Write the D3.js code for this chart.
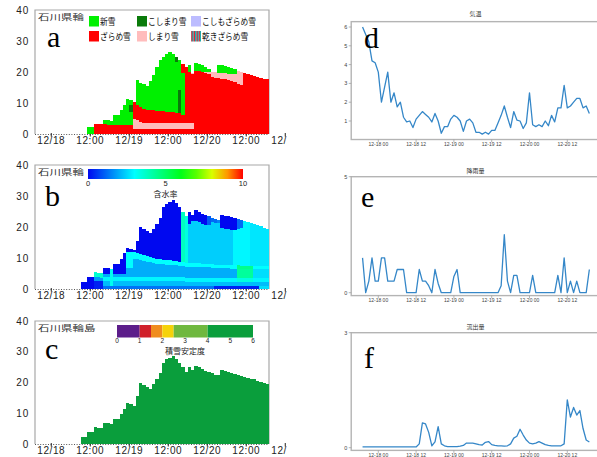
<!doctype html>
<html lang="ja">
<head>
<meta charset="utf-8">
<script src="https://cdnjs.cloudflare.com/ajax/libs/d3/7.8.5/d3.min.js"></script>
<style>
  body { margin: 0; background: #fff; }
  svg { display: block; }
  text { font-family: "Liberation Sans", Arial, sans-serif; }
  .jp { font-family: "Noto Sans CJK JP", sans-serif; }
  .letter { font-family: "Liberation Serif", "DejaVu Serif", serif; font-size: 30px; fill: #000; }
</style>
</head>
<body>
<svg id="fig" width="597" height="457"></svg>
<script>
// ---------- left column: hourly snowpack columns (hours since 12/18 00:00) ----------
var colHours = [9,10,11,12,13,14,15,16,17,18,19,20,21,22,23,24,25,26,27,28,29,30,31,32,33,34,35,36,37,
  38,39,40,41,42,43,44,45,46,47,48,49,50,51,52,53,54,55,56,57,58,59,60,61,62,63,64,65,66];

// total snow depth (cm), panels b and c
var snowDepth = [2.2,2.2,3.9,3.9,5.5,5.3,5.1,6.9,6.7,6.4,8.1,8.0,9.8,11.5,13.2,13.0,12.5,15.5,20.0,19.3,18.6,
  18.0,19.5,21.0,23.0,26.5,27.5,28.0,28.6,27.6,26.5,25.0,23.5,25.0,24.0,25.5,25.0,24.3,23.8,23.4,23.0,22.6,
  22.3,24.0,23.7,23.4,23.1,22.8,22.5,22.2,21.9,21.6,21.3,21.0,20.6,20.2,19.8,19.4];

// panel a: layer thickness by snow type (cm), bottom to top
var aR1 = [0,0,0,0,3.3,3.2,3.1,3.1,3.0,3.0,3.0,3.0,3.0,3.0,3.0,3.0,1.5,1.5,1.5,1.5,1.5,1.5,1.5,1.5,1.5,1.5,
  1.5,1.5,1.5,1.5,1.5,1.5,1.5,1.5,1.5,20.3,20.2,20.0,19.6,19.3,18.5,18.2,18.0,17.8,17.6,17.4,17.2,16.8,16.0,
  15.8,19.6,19.4,19.1,18.8,18.5,18.2,17.9,17.6];
var aP1 = [0,0,0,0,0,0,0,0,0,0,0,0,0,0,0,0,3.3,3.0,2.3,2.0,2.0,2.0,2.0,2.0,2.0,2.0,2.0,2.0,2.0,2.0,2.0,2.0,
  2.0,2.0,2.0,0,0,0,0,0,0,0,0,0,0,0,0,0,0,0,0,0,0,0,0,0,0,0];
var aR2 = [0,0,0,0,0,0,0,0,0,0,0,0,0,0,0,0,5.6,5.0,4.8,4.5,4.3,4.2,4.1,4.0,3.9,3.8,3.7,3.6,3.5,3.4,3.2,2.7,
  18.2,16.5,16.0,0,0,0,0,0,0,0,0,0,0,0,0,0,0,0,0,0,0,0,0,0,0,0];
var aG1 = [0,0,2.1,2.1,0,0,0,1.5,1.5,1.3,3.2,3.0,4.8,6.4,8.3,4.1,0,7.8,7.9,8.0,7.7,9.3,11.4,14.0,16.6,17.7,
  18.6,19.2,18.8,16.3,0,13.5,0,0,0,0,0,0,0,0,0,0,0,0,0,0,0,0,0,0,0,0,0,0,0,0,0,0];
var aDg = [0,0,0,0,0,0,0,0,0,0,0,0,0,0,0,2.3,0,0,0,0,0,0,0,0,0,0,0,0,0,1.6,7.5,0,0,0,0,0,0,0,0,0,0,0,0,0,
  0,0,0,0,0,0,0,0,0,0,0,0,0,0];
var aG2 = [0,0,0,0,0,0,0,0,0,0,0,0,0,0,0,1.6,0,0,0,0,0,0,0,0,0,0,0,0,0,0,9.6,0,0,0,0,0,0,0,0,0,0,0,0,0,
  0,0,0,0,0,0,0,0,0,0,0,0,0,0];
var aR3 = [0,0,0,0,0,0,0,0,0,0,0,0,0,0,0,0,0,0,0,0,0,0,0,0,0,0,0,0,0,0,0,2.8,0,0,0,0,0,0,0,0,0,0,0,0,0,
  0,0,0,0,0,0,0,0,0,0,0,0,0];
var aP3 = [0,0,0,0,0,0,0,0,0,0,0,0,0,0,0,0,0,0,0,0,0,0,0,0,0,0,0,0,0,0,0,0,0,0,0.3,0,0,0,0.4,0.6,1.6,1.8,
  1.7,1.9,2.0,2.1,2.2,2.4,4.2,4.2,0,0,0,0,0,0,0,0];
var aG3 = [0,0,0,0,0,0,0,0,0,0,0,0,0,0,0,0,0,0,0,0,0,0,0,0,0,0,0,0,0,0,0,0,0,2.3,0,2.6,2.5,2.2,1.6,1.2,0,0,
  2.7,2.4,2.3,2.1,1.9,1.8,0,0,0,0,0,0,0,0,0,0];

var snowTypes = ["新雪", "こしまり雪", "こしもざらめ雪", "ざらめ雪", "しまり雪", "乾きざらめ雪"];
var snowTypeColors = ["#00f000", "#0a7a0a", "#bcbcff", "#ff0000", "#ffbcbc", "url(#stripes)"];

// panel b: layer thickness (cm) and water content (%) per column, bottom to top
var bL1 = [2.2,2.2,3.9,3.9,2.5,2.5,2.5,1.0,1.0,1.0,1.0,1.0,1.0,1.0,1.0,1.0,1.0,1.0,1.0,1.0,1.0,1.0,1.0,1.0,
  1.0,1.0,1.0,1.0,1.0,1.0,1.0,1.0,1.0,1.0,1.0,1.0,1.0,1.0,1.0,1.0,1.0,0.9,0.9,0.9,0.9,0.9,0.9,0.9,0.9,0.9,
  0.9,0.9,0.9,0.9,0.9,0.9,0.9,0.9];
var wL1 = [0,0,0,0,0.3,0.3,0.3,1.3,1.3,1.3,1.3,1.3,1.3,1.3,1.3,1.3,1.3,1.3,1.3,1.3,1.3,1.3,1.3,1.3,1.3,1.3,
  1.3,1.3,1.3,1.3,1.3,1.3,1.3,1.3,1.3,1.3,1.3,1.3,1.3,1.3,1.3,0.3,0.3,0.3,0.3,0.3,0.3,0.3,0.3,0.3,0.3,0.3,
  0.3,0.3,0.3,2.6,2.6,2.6];
var bL2 = [0,0,0,0,1.4,1.3,1.2,1.5,1.5,1.5,1.5,1.5,1.5,1.5,1.5,1.5,1.5,1.5,1.5,1.5,1.5,1.5,1.5,1.5,1.5,1.5,
  1.5,1.5,1.5,1.5,1.5,1.5,1.4,1.4,1.4,1.4,1.4,1.4,1.4,1.4,1.4,1.4,1.4,1.4,1.4,1.4,1.4,1.4,1.4,1.4,1.4,1.4,
  1.4,1.4,1.4,1.4,1.4,1.4];
var wL2 = [0,0,0,0,1.8,1.8,1.8,2.2,2.2,3.2,2.2,2.2,2.2,2.2,2.2,2.2,2.2,2.2,2.2,2.2,2.2,2.2,2.2,2.2,2.2,2.2,
  2.2,2.2,2.2,2.2,2.2,2.2,2.2,2.2,2.2,2.2,2.2,2.2,2.2,2.2,2.2,2.2,2.2,2.2,2.2,2.2,2.2,2.2,2.2,2.2,2.2,2.2,
  2.2,2.2,2.2,2.2,2.2,2.2];
var bL3 = [0,0,0,0,0,0,0,1.3,1.3,1.3,1.3,1.3,1.3,1.3,1.3,1.3,1.3,1.3,1.3,1.3,1.3,1.3,1.3,1.3,1.3,1.3,1.3,
  1.3,1.3,1.3,1.3,1.3,1.2,1.2,1.2,1.2,1.2,1.2,1.2,1.2,1.2,1.2,1.2,1.2,1.2,1.2,1.2,1.2,1.2,1.2,1.2,1.2,1.2,
  1.2,1.2,1.2,1.2,1.2];
var wL3 = [0,0,0,0,0,0,0,2.9,2.9,3.2,2.9,2.9,2.9,2.9,2.9,2.9,2.9,2.9,2.9,2.9,2.9,2.9,2.9,2.9,2.9,2.9,2.9,
  2.9,2.9,2.9,2.9,2.9,2.9,2.9,2.9,2.9,2.9,2.9,2.9,2.9,2.9,2.9,2.9,2.9,2.9,2.9,2.9,2.9,3.4,3.4,3.4,3.4,3.4,
  2.9,2.9,2.9,2.9,2.9];
var bL4 = [0,0,0,0,0,0,0,0.9,0.9,0.9,1.0,1.0,1.0,1.0,3.0,3.0,6.0,6.0,5.6,5.3,5.0,4.8,4.6,4.4,4.3,4.2,4.1,
  4.0,3.9,3.8,3.7,3.7,3.6,3.6,3.5,3.5,3.5,3.4,3.4,3.4,3.3,3.3,3.3,3.2,3.2,3.2,3.1,3.1,3.1,3.0,3.0,3.0,2.9,
  2.9,2.9,2.8,2.8,2.8];
var wL4 = [0,0,0,0,0,0,0,2.0,2.0,3.2,2.0,2.0,2.0,2.0,2.0,2.0,2.0,2.0,2.0,2.0,2.0,2.0,2.0,2.0,2.0,2.0,2.0,
  2.0,2.0,2.0,2.0,2.0,2.0,2.0,2.0,2.0,2.0,2.0,2.0,2.0,2.0,2.0,2.0,2.0,2.0,2.0,2.0,2.0,4.3,4.3,4.3,4.3,4.3,
  2.6,2.6,2.6,2.6,2.6];
var bL5 = [0,0,0,0,0,0,0,0,0,0,0,0,0,0,5.0,5.0,2.0,1.9,1.8,1.8,1.7,1.7,1.6,1.6,1.5,1.5,1.4,1.4,1.3,1.3,
  1.2,1.2,1.2,1.2,1.2,1.2,1.2,1.1,1.1,1.1,1.1,1.1,1.1,1.1,1.1,1.0,1.0,1.0,1.0,1.0,1.0,1.0,1.0,1.0,1.0,1.0,
  1.0,1.0];
var wL5 = [0,0,0,0,0,0,0,0,0,0,0,0,0,0,3.0,3.0,3.0,3.0,3.0,3.0,3.0,3.0,3.0,3.0,3.0,3.0,3.0,3.0,3.0,3.0,
  3.0,3.0,3.0,3.0,3.0,3.0,3.0,3.0,3.0,3.0,3.0,3.0,3.0,3.0,3.0,3.0,3.0,3.0,4.5,4.5,4.5,4.5,4.5,3.0,3.0,3.0,
  3.0,3.0];
// whatever is left up to snowDepth (minus the cap) is the top layer
var wTop = [0,0,0,0,3.6,3.6,3.6,0,0,3.2,0,0,0,0,0,0,0,0,0,0,0,0,0,0,0,0,0,0,0,0,0,3.8,3.4,2.4,2.4,2.4,
  2.4,2.4,2.4,2.4,2.4,2.4,2.4,2.4,2.4,2.4,2.4,2.9,2.9,2.9,2.9,2.9,2.7,2.7,2.7,2.7,2.7,2.7];
var bCap = [0,0,0,0,0,0,0,0,0,0,0,0,0,0,0,0,0,0,0,0,0,0,0,0,0,0,0,0,0,0,0,0,0,4.0,2.0,3.5,3.4,3.3,3.2,2.8,
  1.5,1.2,1.0,4.4,4.3,4.2,4.0,3.8,3.0,2.5,0,0,0,0,0,0,0,0];
var wCap = [0,0,0,0,0,0,0,0,0,0,0,0,0,0,0,0,0,0,0,0,0,0,0,0,0,0,0,0,0,0,0,0,0,0,0,0,0,0,0,1.0,1.2,1.2,
  1.5,0,0,0,0,0,1.2,1.2,0,0,0,0,0,0,0,0];

// panel c: stability classes of the colour bar
var stabBreaks = [0, 1, 1.5, 2, 2.5, 4, 6];
var stabColors = ["#5c1d8a", "#d0202a", "#f08c1e", "#f5d20a", "#6fb83f", "#0a9e3c"];
var stabTicks = [0, 1, 2, 3, 4, 5, 6];

var leftTickHours = [0, 12, 24, 36, 48, 60, 72];
var leftTickLabels = ["12/18", "12:00", "12/19", "12:00", "12/20", "12:00", "12/21"];
var depthTicks = [0, 10, 20, 30, 40];

// ---------- right column: hourly weather, 12/17 19:00 .. 12/20 19:00 ----------
var lineHours = [-5,-4,-3,-2,-1,0,1,2,3,4,5,6,7,8,9,10,11,12,13,14,15,16,17,18,19,20,21,22,23,24,25,26,
  27,28,29,30,31,32,33,34,35,36,37,38,39,40,41,42,43,44,45,46,47,48,49,50,51,52,53,54,55,56,57,58,59,60,
  61,62,63,64,65,66,67];
var airTemp = [6.0,5.6,5.2,4.2,4.1,3.6,2.0,2.8,3.6,2.0,2.5,1.75,2.0,1.2,0.95,1.0,0.65,1.1,1.3,1.5,1.35,1.2,
  0.95,1.4,1.0,0.35,0.7,0.7,1.1,1.3,1.2,1.0,0.45,1.0,1.1,0.9,0.4,0.4,0.3,0.4,0.3,0.5,0.5,0.9,1.3,1.8,1.2,
  0.65,1.5,1.05,1.0,0.6,0.9,2.5,0.8,0.7,0.8,0.7,1.0,0.75,1.3,0.95,1.7,1.7,2.9,1.7,1.8,2.0,2.2,2.2,1.7,1.8,1.4];
var rainfall = [1.5,0,0.5,1.5,0.5,0.5,1.5,1.5,0.5,0.5,0.5,1.0,1.0,1.0,0,0,0,0,1.0,0.5,0.5,0.3,0,1.0,0.4,0,
  0,0,0,0.7,1.0,0,0,0,0,0,0,0,0,0,0,0,0,0,0.3,2.5,0.5,0,0.75,0.75,0,0,0,0,0.75,0,0,0,0,0,0,0,0.75,0,1.5,0,
  0.5,0,0.5,0,0,0,1.0];
var runoff = [0.02,0.02,0.02,0.02,0.02,0.02,0.02,0.02,0.02,0.02,0.02,0.02,0.02,0.02,0.02,0.02,0.02,0.02,
  0.1,0.65,0.62,0.4,0.05,0.15,0.55,0.1,0.05,0.03,0.03,0.03,0.03,0.04,0.06,0.12,0.12,0.12,0.1,0.08,0.07,0.14,
  0.16,0.08,0.06,0.05,0.05,0.04,0.05,0.1,0.25,0.3,0.48,0.33,0.2,0.12,0.1,0.12,0.16,0.12,0.08,0.06,0.05,0.05,
  0.05,0.05,0.1,1.25,0.8,1.05,0.85,0.97,0.5,0.2,0.15];

var rightTickHours = [0, 12, 24, 36, 48, 60];
var rightTickLabels = ["12-18 00", "12-18 12", "12-19 00", "12-19 12", "12-20 00", "12-20 12"];

// ---------------------------------------------------------------------------------
var svg = d3.select("#fig");
var defs = svg.append("defs");

var stripes = defs.append("pattern").attr("id", "stripes")
  .attr("patternUnits", "userSpaceOnUse").attr("width", 2.6).attr("height", 4);
stripes.append("rect").attr("width", 1.3).attr("height", 4).attr("fill", "#00c0c0");
stripes.append("rect").attr("x", 1.3).attr("width", 1.3).attr("height", 4).attr("fill", "#e02030");

defs.append("clipPath").attr("id", "leftClip")
  .append("rect").attr("x", 0).attr("y", 0).attr("width", 287).attr("height", 457);

var xL = d3.scaleLinear().domain([-5, 67]).range([35, 269]);
var waterColor = d3.scaleLinear().domain([0, 3, 6.3, 8.3, 10])
  .range(["#0008f0", "#00ffff", "#00ff00", "#ffff00", "#ff0000"]);

var left = svg.append("g").attr("clip-path", "url(#leftClip)");

function leftFrame(top, bottom) {
  var y = d3.scaleLinear().domain([0, 40]).range([bottom, top]);
  var g = left.append("g");
  // dotted zero line
  g.append("line").attr("x1", 35).attr("x2", 269).attr("y1", bottom + 0.5).attr("y2", bottom + 0.5)
    .attr("stroke", "#555").attr("stroke-dasharray", "1,1.6");
  g.append("path")
    .attr("d", "M35," + bottom + "V" + top + "H269V" + bottom)
    .attr("fill", "none").attr("stroke", "#a8a8a8").attr("stroke-width", 1.2);
  g.selectAll(".yl").data(depthTicks).enter().append("text")
    .attr("x", 29).attr("y", function(d) { return y(d) + 3.5; })
    .attr("text-anchor", "end").attr("font-size", 10).attr("letter-spacing", 0.8)
    .attr("fill", "#222").text(function(d) { return d; });
  g.selectAll(".xt").data(leftTickHours).enter().append("line")
    .attr("x1", function(d) { return xL(d); }).attr("x2", function(d) { return xL(d); })
    .attr("y1", bottom - 1).attr("y2", bottom + 2.5).attr("stroke", "#222").attr("stroke-width", 1);
  g.selectAll(".xl").data(leftTickLabels).enter().append("text")
    .attr("x", function(d, i) { return xL(leftTickHours[i]); }).attr("y", bottom + 9.5)
    .attr("text-anchor", "middle").attr("font-size", 10).attr("letter-spacing", 0.6)
    .attr("fill", "#222").text(function(d) { return d; });
  return { g: g, y: y };
}

function stationTitle(g, baseY, name) {
  g.append("text").attr("class", "jp").attr("x", 38).attr("y", baseY)
    .attr("font-size", 11.5).attr("fill", "#333")
    .attr("transform", "translate(0," + baseY * 0.3 + ") scale(1,0.7)")
    .text(name);
}

// ---------- panel a ----------
var pa = leftFrame(10, 134);
var aKeys = ["r1", "p1", "r2", "g1", "dg", "g2", "r3", "p3", "g3"];
var aColor = { r1: "#ff0000", p1: "#ffbcbc", r2: "#ff0000", g1: "#00f000", dg: "#0a7a0a",
  g2: "#00f000", r3: "#ff0000", p3: "#ffbcbc", g3: "#00f000" };
var aArrays = [aR1, aP1, aR2, aG1, aDg, aG2, aR3, aP3, aG3];
var aRows = colHours.map(function(h, i) {
  var row = { h: h };
  aKeys.forEach(function(k, j) { row[k] = aArrays[j][i]; });
  return row;
});
var aStack = d3.stack().keys(aKeys)(aRows);
stationTitle(pa.g, 20, "石川県輪");
aStack.forEach(function(layer) {
  pa.g.append("g").attr("fill", aColor[layer.key]).attr("shape-rendering", "crispEdges")
    .selectAll("rect").data(layer.filter(function(d) { return d[1] > d[0]; })).enter().append("rect")
    .attr("x", function(d) { return xL(d.data.h); })
    .attr("width", function(d) { return xL(d.data.h + 1) - xL(d.data.h); })
    .attr("y", function(d) { return pa.y(d[1]); })
    .attr("height", function(d) { return pa.y(d[0]) - pa.y(d[1]); });
});
var leg = pa.g.append("g");
leg.append("rect").attr("x", 87).attr("y", 13.5).attr("width", 181).attr("height", 31).attr("fill", "#fff");
var legX = [89, 137, 191], legY = [16, 31];
snowTypes.forEach(function(name, i) {
  var lx = legX[i % 3], ly = legY[Math.floor(i / 3)];
  leg.append("rect").attr("x", lx).attr("y", ly).attr("width", 10).attr("height", 10.5)
    .attr("fill", snowTypeColors[i]);
  leg.append("text").attr("class", "jp").attr("x", lx + 11).attr("y", ly + 9.3)
    .attr("font-size", 9.5).attr("fill", "#111")
    .attr("textLength", name.length * 7.7).attr("lengthAdjust", "spacingAndGlyphs").text(name);
});

// ---------- panel b ----------
var pb = leftFrame(165, 289);
stationTitle(pb.g, 175, "石川県輪");
var bThick = [bL1, bL2, bL3, bL4, bL5], bWater = [wL1, wL2, wL3, wL4, wL5];
var bCells = [];
colHours.forEach(function(h, i) {
  var base = 0;
  bThick.forEach(function(arr, j) {
    if (arr[i] > 0) bCells.push({ h: h, y0: base, y1: base + arr[i], w: bWater[j][i] });
    base += arr[i];
  });
  var topEnd = snowDepth[i] - bCap[i];
  if (topEnd > base) bCells.push({ h: h, y0: base, y1: topEnd, w: wTop[i] });
  if (bCap[i] > 0) bCells.push({ h: h, y0: topEnd, y1: snowDepth[i], w: wCap[i] });
});
pb.g.append("g").attr("shape-rendering", "crispEdges")
  .selectAll("rect").data(bCells).enter().append("rect")
  .attr("x", function(d) { return xL(d.h); })
  .attr("width", function(d) { return xL(d.h + 1) - xL(d.h); })
  .attr("y", function(d) { return pb.y(d.y1); })
  .attr("height", function(d) { return pb.y(d.y0) - pb.y(d.y1); })
  .attr("fill", function(d) { return waterColor(d.w); });

// water content colour bar
var cbW = d3.scaleLinear().domain([0, 10]).range([88, 243]);
var grad = defs.append("linearGradient").attr("id", "jet");
[0, 1, 2, 3, 4, 5, 6, 7, 8, 9, 10].forEach(function(v) {
  grad.append("stop").attr("offset", (v * 10) + "%").attr("stop-color", waterColor(v));
});
pb.g.append("rect").attr("x", 86).attr("y", 168).attr("width", 162).attr("height", 29).attr("fill", "#fff");
pb.g.append("rect").attr("x", cbW(0)).attr("y", 169).attr("width", cbW(10) - cbW(0)).attr("height", 10)
  .attr("fill", "url(#jet)");
pb.g.selectAll(".cbl").data([0, 5, 10]).enter().append("text")
  .attr("x", function(d) { return cbW(d); }).attr("y", 186).attr("text-anchor", "middle")
  .attr("font-size", 7.5).attr("fill", "#222").text(function(d) { return d; });
pb.g.append("text").attr("class", "jp").attr("x", cbW(5)).attr("y", 196.5).attr("text-anchor", "middle")
  .attr("font-size", 8).attr("fill", "#222").text("含水率");

// ---------- panel c ----------
var pc = leftFrame(321, 444);
stationTitle(pc.g, 331, "石川県輪島");
pc.g.append("g").attr("fill", stabColors[5]).attr("shape-rendering", "crispEdges")
  .selectAll("rect").data(colHours).enter().append("rect")
  .attr("x", function(d) { return xL(d); })
  .attr("width", function(d) { return xL(d + 1) - xL(d); })
  .attr("y", function(d, i) { return pc.y(snowDepth[i]); })
  .attr("height", function(d, i) { return pc.y(0) - pc.y(snowDepth[i]); });

var cbS = d3.scaleLinear().domain([0, 6]).range([117, 253]);
pc.g.append("rect").attr("x", 101).attr("y", 323).attr("width", 163).attr("height", 32).attr("fill", "#fff");
pc.g.selectAll(".seg").data(stabColors).enter().append("rect")
  .attr("x", function(d, i) { return cbS(stabBreaks[i]); })
  .attr("width", function(d, i) { return cbS(stabBreaks[i + 1]) - cbS(stabBreaks[i]); })
  .attr("y", 325).attr("height", 12.5).attr("fill", function(d) { return d; });
pc.g.selectAll(".cbl").data(stabTicks).enter().append("text")
  .attr("x", function(d) { return cbS(d); }).attr("y", 343).attr("text-anchor", "middle")
  .attr("font-size", 6.5).attr("fill", "#222").text(function(d) { return d; });
pc.g.append("text").attr("class", "jp").attr("x", cbS(3)).attr("y", 353.5).attr("text-anchor", "middle")
  .attr("font-size", 8).attr("fill", "#222").text("積雪安定度");

// ---------- right column line charts ----------
var xR = d3.scaleLinear().domain([0, 60]).range([378.3, 567.3]);
var frameLeft = xR(-8.6), frameRight = 600;

function rightPanel(cfg) {
  var y = d3.scaleLinear().domain(cfg.domain).range(cfg.range);
  var g = svg.append("g");
  var fTop = y(cfg.frame[1]), fBot = y(cfg.frame[0]);
  g.append("text").attr("class", "jp").attr("x", (frameLeft + frameRight) / 2).attr("y", cfg.titleY)
    .attr("text-anchor", "middle").attr("font-size", 6).attr("fill", "#333").text(cfg.title);
  g.append("rect").attr("x", frameLeft).attr("y", fTop).attr("width", frameRight - frameLeft)
    .attr("height", fBot - fTop).attr("fill", "none").attr("stroke", "#b4b4b4").attr("stroke-width", 1.4);
  g.selectAll(".yt").data(cfg.ticks).enter().append("line")
    .attr("x1", frameLeft - 2.5).attr("x2", frameLeft).attr("y1", function(d) { return y(d); })
    .attr("y2", function(d) { return y(d); }).attr("stroke", "#999").attr("stroke-width", 0.7);
  g.selectAll(".yl").data(cfg.ticks).enter().append("text")
    .attr("x", frameLeft - 4).attr("y", function(d) { return y(d) + 2; })
    .attr("text-anchor", "end").attr("font-size", 5.5).attr("fill", "#444").text(function(d) { return d; });
  g.selectAll(".xt").data(rightTickHours).enter().append("line")
    .attr("x1", function(d) { return xR(d); }).attr("x2", function(d) { return xR(d); })
    .attr("y1", fBot).attr("y2", fBot + 2.5).attr("stroke", "#999").attr("stroke-width", 0.7);
  g.selectAll(".xl").data(rightTickLabels).enter().append("text")
    .attr("x", function(d, i) { return xR(rightTickHours[i]); }).attr("y", fBot + 6.2)
    .attr("text-anchor", "middle").attr("font-size", 5).attr("fill", "#444").text(function(d) { return d; });
  var line = d3.line().x(function(d, i) { return xR(lineHours[i]); }).y(function(d) { return y(d); });
  g.append("path").attr("d", line(cfg.values)).attr("fill", "none")
    .attr("stroke", "#3587c8").attr("stroke-width", 1.3).attr("stroke-linejoin", "round");
}

rightPanel({ title: "気温", titleY: 16, values: airTemp, domain: [1, 6], range: [121, 27],
  frame: [0.015, 6.285], ticks: [1, 2, 3, 4, 5, 6] });
rightPanel({ title: "降雨量", titleY: 173, values: rainfall, domain: [0, 5], range: [292.7, 176.7],
  frame: [-0.125, 5], ticks: [0, 5] });
rightPanel({ title: "流出量", titleY: 328.5, values: runoff, domain: [0, 3], range: [447.7, 332.7],
  frame: [-0.07, 3], ticks: [0, 3] });

// ---------- panel letters ----------
var letters = ["a", "b", "c", "d", "e", "f"];
var letterX = [47, 45, 45, 364, 361, 364];
var letterY = [47, 206, 359, 48, 207, 368];
svg.selectAll(".letter").data(letters).enter().append("text").attr("class", "letter")
  .attr("x", function(d, i) { return letterX[i]; }).attr("y", function(d, i) { return letterY[i]; })
  .text(function(d) { return d; });
</script>
</body>
</html>
